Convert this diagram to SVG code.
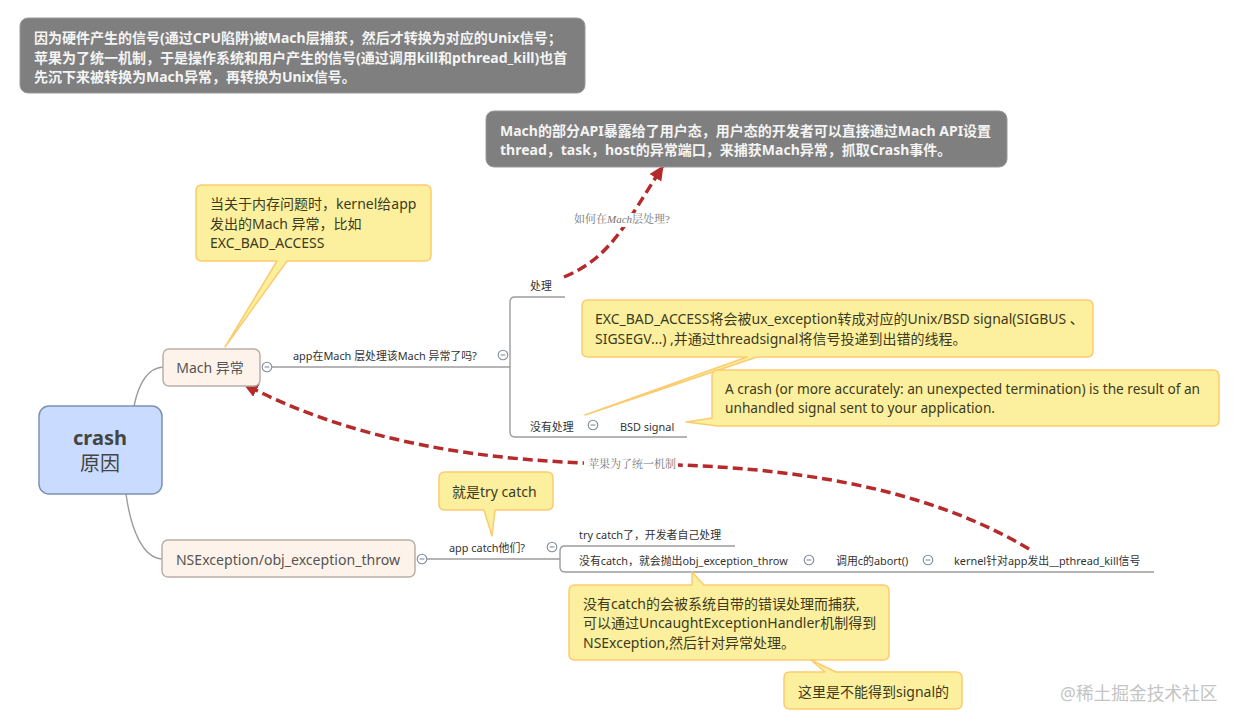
<svg xmlns="http://www.w3.org/2000/svg" width="1240" height="725" viewBox="0 0 1240 725">
<style>
text{font-family:"Noto Sans","Noto Sans CJK SC","Open Sans",sans-serif;fill:#333}
.sm{font-size:10.9px}
.note{font-size:14px;fill:#3c3a20}
.dark{font-size:14px;font-weight:700;fill:#f4f4f4}
.rel{font-family:"Liberation Serif","Noto Serif CJK SC","Noto Sans CJK SC",serif;font-size:11px;fill:#777}
.box{fill:#7f7f7f;stroke:#9a9a9a}
.yel{fill:#fcf09e;stroke:#fbcb6e;stroke-width:1.5;stroke-linejoin:round}
.main{fill:#fdf3ea;stroke:#b9b0a8;stroke-width:1.5}
.ln{fill:none;stroke:#9c9c9c;stroke-width:1.4}
.red{fill:none;stroke:#b52a2a;stroke-width:3.5;stroke-dasharray:10 5}
.col{fill:#fff;stroke:#7f8c9c;stroke-width:1.1}
.mi{fill:none;stroke:#7f8c9c;stroke-width:1.1}
</style>
<defs>
<marker id="ah" markerUnits="userSpaceOnUse" markerWidth="18" markerHeight="16" refX="14" refY="7" orient="auto"><path d="M0 0L15 7L0 14Z" fill="#b52a2a"/></marker>
<g id="c"><circle class="col" r="4.8"/><path class="mi" d="M-2.4 0H2.4"/></g>
</defs>
<g id="connectors">
<path class="ln" d="M134 406C139 382 148 368 163 367"/>
<path class="ln" d="M126 494C131 530 143 558 162 559"/>
<path class="ln" d="M272 367H510"/>
<path class="ln" d="M565 297H515Q510 297 510 302V432Q510 437 515 437H687"/>
<path class="ln" d="M427 559H560"/>
<path class="ln" d="M735 546H565Q560 546 560 551V567Q560 572 565 572H1154"/>
<path class="red" marker-end="url(#ah)" d="M564 277C610 258 625 225 663 166"/>
<path class="red" marker-end="url(#ah)" d="M1029 549C930 490 800 465 630 464C480 463 350 440 244 384"/>
<rect x="570" y="213" width="106" height="14" fill="#fff"/>
<rect x="584" y="458" width="94" height="13" fill="#fff"/>
<text class="rel" x="574" y="223">如何在<tspan font-style="italic">Mach</tspan>层处理?</text>
<text class="rel" x="588" y="468">苹果为了统一机制</text>
<use href="#c" x="267" y="367"/>
<use href="#c" x="503" y="355"/>
<use href="#c" x="593" y="425"/>
<use href="#c" x="422" y="559"/>
<use href="#c" x="552" y="547"/>
<use href="#c" x="809" y="560"/>
<use href="#c" x="928" y="560"/>
</g>
<g id="note-top"><rect class="box" x="20" y="18" width="565" height="75" rx="8"/>
<text class="dark" x="34" y="43">因为硬件产生的信号(通过CPU陷阱)被Mach层捕获，然后才转换为对应的Unix信号；</text>
<text class="dark" x="34" y="63">苹果为了统一机制，于是操作系统和用户产生的信号(通过调用kill和pthread_kill)也首</text>
<text class="dark" x="34" y="82">先沉下来被转换为Mach异常，再转换为Unix信号。</text></g>
<g id="note-api"><rect class="box" x="486" y="111" width="521" height="56" rx="8"/>
<text class="dark" x="500" y="136">Mach的部分API暴露给了用户态，用户态的开发者可以直接通过Mach API设置</text>
<text class="dark" x="500" y="155">thread，task，host的异常端口，来捕获Mach异常，抓取Crash事件。</text></g>
<g id="crash"><rect x="39" y="406" width="123" height="88" rx="10" fill="#c9dcff" stroke="#7c90b8" stroke-width="1.5"/>
<text x="100" y="445" text-anchor="middle" font-size="20" font-weight="700" style="fill:#444">crash</text>
<text x="100" y="471" text-anchor="middle" font-size="20" style="fill:#444">原因</text></g>
<g id="mach"><rect class="main" x="163" y="349" width="97" height="37" rx="6"/>
<text x="210" y="373" text-anchor="middle" font-size="14" style="fill:#555">Mach 异常</text></g>
<g id="nsexception"><rect class="main" x="162" y="540" width="253" height="37" rx="6"/>
<text x="288" y="565" text-anchor="middle" font-size="14.1" style="fill:#555">NSException/obj_exception_throw</text></g>
<g id="t-q1"><text class="sm" x="293" y="360">app在Mach 层处理该Mach 异常了吗?</text></g>
<g id="t-handle"><text class="sm" x="530" y="290">处理</text></g>
<g id="t-nohandle"><text class="sm" x="530" y="431">没有处理</text></g>
<g id="t-bsd"><text class="sm" x="620" y="431">BSD signal</text></g>
<g id="t-q2"><text class="sm" x="449" y="552">app catch他们?</text></g>
<g id="t-try"><text class="sm" x="579" y="539">try catch了，开发者自己处理</text></g>
<g id="t-nocatch"><text class="sm" x="579" y="565">没有catch，就会抛出obj_exception_throw</text></g>
<g id="t-abort"><text class="sm" x="836" y="565">调用c的abort()</text></g>
<g id="t-kill"><text class="sm" x="954" y="565">kernel针对app发出__pthread_kill信号</text></g>
<g id="call-mem"><path class="yel" d="M202 185H425Q431 185 431 191V255Q431 261 425 261H287L225 347L277 261H202Q196 261 196 255V191Q196 185 202 185Z"/>
<text class="note" x="210" y="209">当关于内存问题时，kernel给app</text>
<text class="note" x="210" y="229">发出的Mach 异常，比如</text>
<text class="note" x="210" y="248">EXC_BAD_ACCESS</text></g>
<g id="call-exc"><path class="yel" d="M588 300H1087Q1093 300 1093 306V351Q1093 357 1087 357H757L585 415L747 357H588Q582 357 582 351V306Q582 300 588 300Z"/>
<text class="note" x="595" y="324">EXC_BAD_ACCESS将会被ux_exception转成对应的Unix/BSD signal(SIGBUS 、</text>
<text class="note" x="595" y="344">SIGSEGV...) ,并通过threadsignal将信号投递到出错的线程。</text></g>
<g id="call-crash"><path class="yel" d="M718 370H1213Q1219 370 1219 376V420Q1219 426 1213 426H718L686 422L712 418V376Q712 370 718 370Z"/>
<text class="note" x="725" y="394" textLength="475" lengthAdjust="spacingAndGlyphs">A crash (or more accurately: an unexpected termination) is the result of an</text>
<text class="note" x="725" y="413" textLength="270" lengthAdjust="spacingAndGlyphs">unhandled signal sent to your application.</text></g>
<g id="call-try"><path class="yel" d="M445 472H547Q553 472 553 478V504Q553 510 547 510H495L492 536L484 510H445Q439 510 439 504V478Q439 472 445 472Z"/>
<text class="note" x="452" y="497">就是try catch</text></g>
<g id="call-nocatch"><path class="yel" d="M575 585H692V572L704 585H883Q889 585 889 591V654Q889 660 883 660H575Q569 660 569 654V591Q569 585 575 585Z"/>
<text class="note" x="583" y="609">没有catch的会被系统自带的错误处理而捕获,</text>
<text class="note" x="583" y="628">可以通过UncaughtExceptionHandler机制得到</text>
<text class="note" x="583" y="648">NSException,然后针对异常处理。</text></g>
<g id="call-signal"><path class="yel" d="M790 672H825L811 660L836 672H956Q962 672 962 678V703Q962 709 956 709H790Q784 709 784 703V678Q784 672 790 672Z"/>
<text class="note" x="798" y="697">这里是不能得到signal的</text></g>
<text x="1060" y="700" font-size="17.7" style="fill:#c4c4c4">@稀土掘金技术社区</text>
</svg>
